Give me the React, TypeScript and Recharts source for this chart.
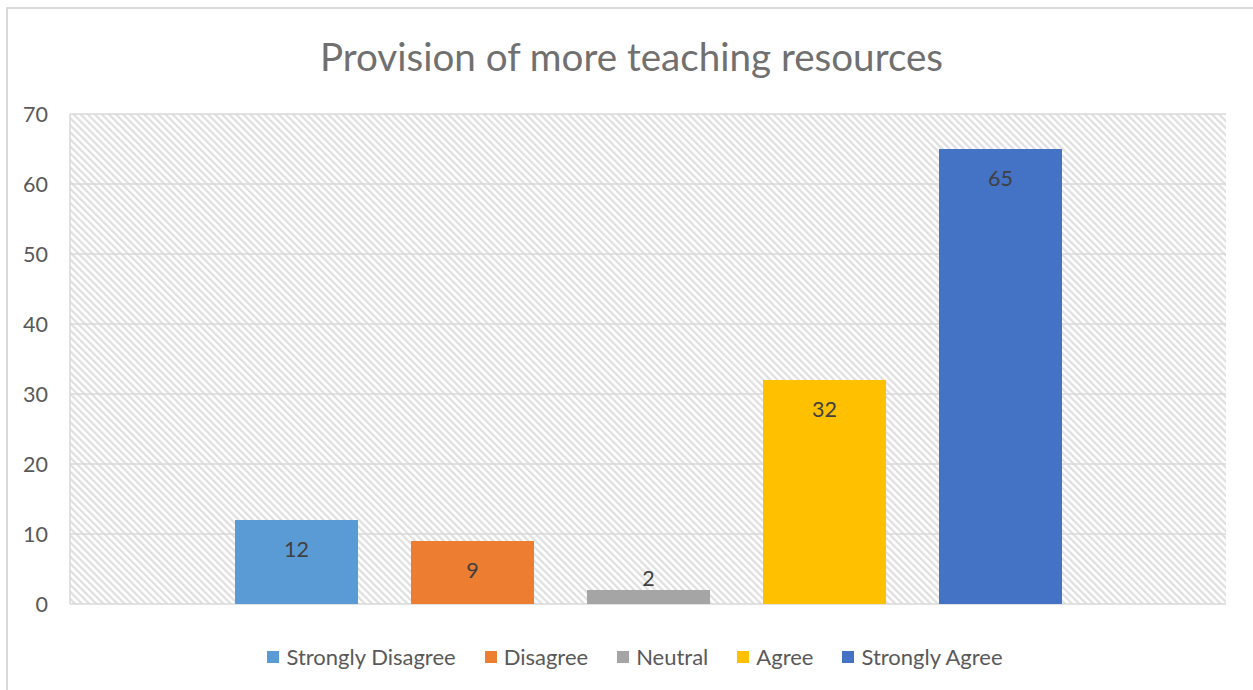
import React from 'react';
import { BarChart, Bar, XAxis, YAxis, CartesianGrid, Legend, LabelList } from 'recharts';

const categories = ['Provision of more teaching resources'];
const seriesNames = ['Strongly Disagree', 'Disagree', 'Neutral', 'Agree', 'Strongly Agree'];
const seriesKeys = ['sd', 'd', 'n', 'a', 'sa'];
const seriesValues = [12, 9, 2, 32, 65];
const seriesColors = ['#5B9BD5', '#ED7D31', '#A5A5A5', '#FFC000', '#4472C4'];
const yTicks = [0, 10, 20, 30, 40, 50, 60, 70];

const data = categories.map((c) => {
  const row: any = { name: c };
  seriesKeys.forEach((k, i) => {
    row[k] = seriesValues[i];
  });
  return row;
});

const FONT = 'Lato, "Open Sans", sans-serif';

const ValueLabel = (props: any) => {
  const { x, y, width, height, value } = props;
  const inside = height > 30;
  const ty = inside ? y + 29 : y - 12;
  return (
    <text
      x={x + width / 2}
      y={ty}
      textAnchor="middle"
      dominantBaseline="central"
      fill="#404040"
      fontSize={21.5}
      fontFamily={FONT}
    >
      {value}
    </text>
  );
};

const LegendContent = () => {
  return (
    <div
      style={{
        display: 'flex',
        justifyContent: 'center',
        alignItems: 'center',
        paddingTop: 39,
        paddingLeft: 17,
        fontFamily: FONT,
        fontSize: 22,
        color: '#595959',
      }}
    >
      {seriesNames.map((name, i) => (
        <div key={name} style={{ display: 'flex', alignItems: 'center', marginRight: i < seriesNames.length - 1 ? 29 : 0 }}>
          <span style={{ display: 'inline-block', width: 12, height: 12, background: seriesColors[i], marginRight: 7 }} />
          <span>{name}</span>
        </div>
      ))}
    </div>
  );
};

export default function App() {
  return (
    <div
      style={{
        position: 'absolute',
        left: 0,
        top: 0,
        width: 1253,
        height: 690,
        overflow: 'hidden',
        background: '#ffffff',
      }}
    >
      <div
        style={{
          position: 'absolute',
          left: 6,
          top: 7,
          width: 1280,
          height: 720,
          border: '2px solid #d9d9d9',
        }}
      />
      <div
        style={{
          position: 'absolute',
          left: 5,
          top: 32,
          width: 1253,
          textAlign: 'center',
          fontFamily: FONT,
          fontSize: 38.6,
          color: '#707070',
          lineHeight: '48px',
        }}
      >
        {categories[0]}
      </div>
      <div style={{ position: 'absolute', left: 0, top: 0 }}>
        <BarChart
          width={1253}
          height={690}
          data={data}
          margin={{ top: 114, right: 27, bottom: 0, left: 0 }}
          barSize={123}
          barGap={53}
        >
          <defs>
            <pattern
              id="hatch"
              patternUnits="userSpaceOnUse"
              width={5}
              height={5}
              patternTransform="rotate(-45)"
            >
              <rect width={5} height={5} fill="#ffffff" />
              <line x1={1.2} y1={0} x2={1.2} y2={5} stroke="#dedede" strokeWidth={2.2} />
            </pattern>
          </defs>
          <CartesianGrid
            vertical={false}
            stroke="#d9d9d9"
            strokeWidth={1.5}
            fill="url(#hatch)"
            fillOpacity={1}
          />
          <XAxis dataKey="name" hide />
          <YAxis
            domain={[0, 70]}
            ticks={yTicks}
            width={70}
            tickLine={false}
            tickMargin={16}
            axisLine={{ stroke: '#d9d9d9', strokeWidth: 1.5 }}
            tick={{ fill: '#595959', fontSize: 21.5, fontFamily: FONT }}
            interval={0}
          />
          <YAxis
            yAxisId="right"
            orientation="right"
            domain={[0, 70]}
            width={0}
            tick={false}
            tickLine={false}
            axisLine={{ stroke: '#d9d9d9', strokeWidth: 1.5 }}
          />
          <Legend
            verticalAlign="bottom"
            height={86}
            wrapperStyle={{ left: 0, width: 1253 }}
            content={<LegendContent />}
          />
          {seriesKeys.map((k, i) => (
            <Bar key={k} dataKey={k} name={seriesNames[i]} fill={seriesColors[i]} isAnimationActive={false}>
              <LabelList dataKey={k} content={<ValueLabel />} />
            </Bar>
          ))}
        </BarChart>
      </div>
    </div>
  );
}
